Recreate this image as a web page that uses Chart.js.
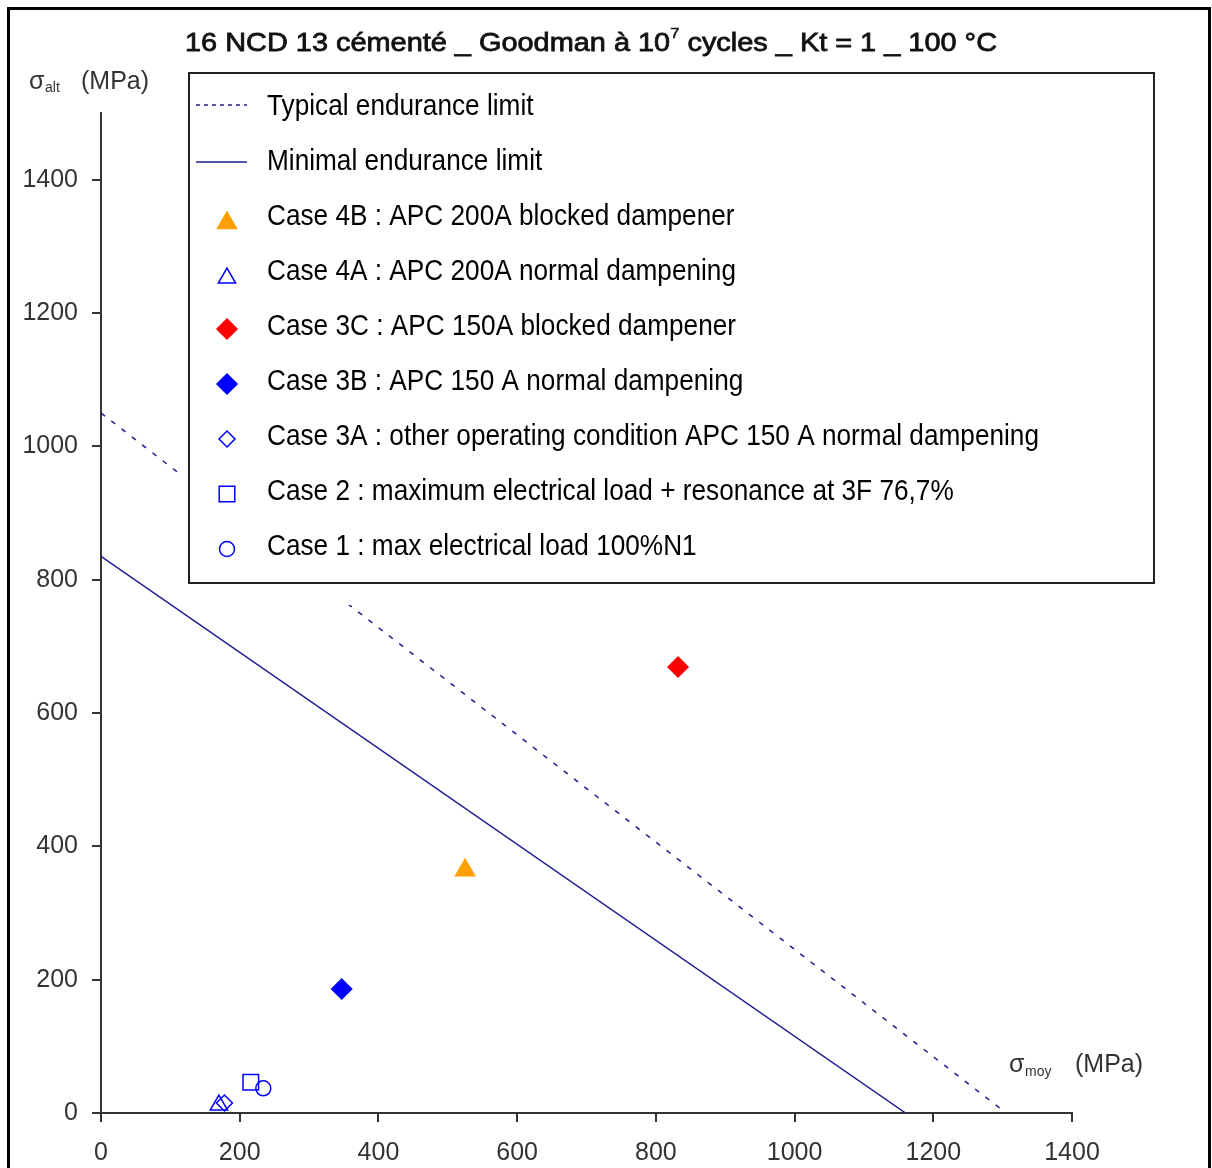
<!DOCTYPE html>
<html>
<head>
<meta charset="utf-8">
<script src="https://cdn.jsdelivr.net/npm/chart.js@4"></script>
<style>
  html, body { margin: 0; padding: 0; background: #fff; }
  #wrap { width: 1212px; height: 1168px; }
</style>
</head>
<body>
<div id="wrap"><canvas id="chart" width="1212" height="1168"></canvas></div>
<script>
// tick values
const xTicks = [0, 200, 400, 600, 800, 1000, 1200, 1400];
const yTicks = [0, 200, 400, 600, 800, 1000, 1200, 1400];

// Goodman lines (end points)
const typicalX = [0, 1305];
const typicalY = [1050, 0];
const minimalX = [0, 1160];
const minimalY = [835, 0];

// measured cases
const caseLabels = [
  "Case 4B : APC 200A blocked dampener",
  "Case 4A : APC 200A normal dampening",
  "Case 3C : APC 150A blocked dampener",
  "Case 3B : APC 150 A normal dampening",
  "Case 3A : other operating condition APC 150 A normal dampening",
  "Case 2 : maximum electrical load + resonance at 3F 76,7%",
  "Case 1 : max electrical load 100%N1"
];
const caseX = [525, 170, 832, 347, 178, 216, 234];
const caseY = [364, 12, 669, 186, 15, 46, 37];

const lineLabels = ["Typical endurance limit", "Minimal endurance limit"];
const titleParts = ["16 NCD 13 cémenté _ Goodman à 10", "7", " cycles _ Kt = 1 _ 100 °C"];

const NAVY = "#1c1c8f";
const BLUE = "#0000ff";

// marker look per case
const caseStyles = [
  { pointStyle: "triangle", radius: 11, fill: "#ff9f00", border: "#ff9f00" },
  { pointStyle: "triangle", radius: 10, fill: "rgba(0,0,0,0)", border: BLUE },
  { pointStyle: "rectRot", radius: 10, fill: "#ff0000", border: "#ff0000" },
  { pointStyle: "rectRot", radius: 10, fill: BLUE, border: BLUE },
  { pointStyle: "rectRot", radius: 8, fill: "rgba(0,0,0,0)", border: BLUE },
  { pointStyle: "rect", radius: 11, fill: "rgba(0,0,0,0)", border: BLUE },
  { pointStyle: "circle", radius: 7.5, fill: "rgba(0,0,0,0)", border: BLUE }
];

const toPoints = (xs, ys) => xs.map((x, i) => ({ x: x, y: ys[i] }));

const datasets = [
  {
    label: lineLabels[0],
    data: toPoints(typicalX, typicalY),
    showLine: true,
    borderColor: NAVY,
    borderWidth: 1.5,
    borderDash: [5, 8],
    pointRadius: 0,
    isLine: true
  },
  {
    label: lineLabels[1],
    data: toPoints(minimalX, minimalY),
    showLine: true,
    borderColor: NAVY,
    borderWidth: 1.5,
    pointRadius: 0,
    isLine: true
  }
];
caseLabels.forEach((label, i) => {
  const s = caseStyles[i];
  datasets.push({
    label: label,
    data: [{ x: caseX[i], y: caseY[i] }],
    pointStyle: s.pointStyle,
    pointRadius: s.radius,
    pointBackgroundColor: s.fill,
    pointBorderColor: s.border,
    pointBorderWidth: 1.5,
    clip: false
  });
});

// text squeezed horizontally to match the narrow face of the original
function drawFitted(ctx, text, x, y, font, sx, stroke) {
  ctx.save();
  ctx.font = font;
  ctx.translate(x, y);
  ctx.scale(sx, 1);
  ctx.fillText(text, 0, 0);
  if (stroke) {
    ctx.strokeStyle = ctx.fillStyle;
    ctx.lineWidth = stroke;
    ctx.strokeText(text, 0, 0);
  }
  ctx.restore();
}

// outer frame, title, axis titles, legend box
const decorations = {
  id: "decorations",
  afterDatasetsDraw(chart) {
    const ctx = chart.ctx;
    const ds = chart.data.datasets;

    // legend box (white, with a margin hiding the line behind it)
    const L = 189, T = 73, R = 1154, B = 583;
    ctx.save();
    ctx.fillStyle = "#fff";
    ctx.fillRect(L - 10, T - 12, R - L + 22, B - T + 34);
    ctx.strokeStyle = "#222";
    ctx.lineWidth = 2;
    ctx.strokeRect(L, T, R - L, B - T);

    const font = "30px 'Liberation Sans', Arial, sans-serif";
    ctx.font = font;
    const sx = 772 / ctx.measureText(caseLabels[4]).width;
    ctx.fillStyle = "#000";
    ctx.textBaseline = "alphabetic";
    ds.forEach((d, i) => {
      const base = 115 + 55 * i;
      if (d.isLine) {
        ctx.save();
        ctx.strokeStyle = d.borderColor;
        ctx.lineWidth = 1.5;
        ctx.setLineDash(d.borderDash ? [4, 4] : []);
        ctx.beginPath();
        ctx.moveTo(196, base - 10 + (i === 1 ? 2 : 0));
        ctx.lineTo(247, base - 10 + (i === 1 ? 2 : 0));
        ctx.stroke();
        ctx.restore();
      } else {
        ctx.save();
        ctx.fillStyle = d.pointBackgroundColor;
        ctx.strokeStyle = d.pointBorderColor;
        ctx.lineWidth = d.pointBorderWidth;
        const dy = d.pointStyle === "triangle" ? -2 : -6;
        Chart.helpers.drawPoint(ctx, {
          pointStyle: d.pointStyle,
          radius: d.pointRadius,
          rotation: 0,
          borderWidth: d.pointBorderWidth
        }, 227, base + dy);
        ctx.restore();
      }
      ctx.fillStyle = "#000";
      drawFitted(ctx, d.label, 267, base, font, sx);
    });
    ctx.restore();
  },
  afterDraw(chart) {
    const ctx = chart.ctx;
    ctx.save();
    // outer frame
    ctx.strokeStyle = "#000";
    ctx.lineWidth = 3;
    ctx.strokeRect(8.5, 8.5, 1201, 1200);

    // title with superscript exponent
    ctx.fillStyle = "#111";
    ctx.textBaseline = "alphabetic";
    const tf = "26px 'Liberation Sans', Arial, sans-serif";
    const sf = "15px 'Liberation Sans', Arial, sans-serif";
    ctx.font = tf;
    const w0 = ctx.measureText(titleParts[0]).width;
    const w2 = ctx.measureText(titleParts[2]).width;
    ctx.font = sf;
    const w1 = ctx.measureText(titleParts[1]).width;
    const tsx = 812 / (w0 + w1 + w2);
    let x = 185;
    drawFitted(ctx, titleParts[0], x, 51, tf, tsx, 0.8);
    x += w0 * tsx;
    drawFitted(ctx, titleParts[1], x, 38, sf, tsx, 0.5);
    x += w1 * tsx;
    drawFitted(ctx, titleParts[2], x, 51, tf, tsx, 0.8);

    // axis titles
    ctx.fillStyle = "#333";
    const af = "25px 'Liberation Sans', Arial, sans-serif";
    const bf = "14px 'Liberation Sans', Arial, sans-serif";
    ctx.font = af;
    ctx.fillText("σ", 29, 89);
    ctx.font = bf;
    ctx.fillText("alt", 45, 92);
    ctx.font = af;
    ctx.fillText("(MPa)", 81, 89);

    ctx.fillText("σ", 1009, 1072);
    ctx.font = bf;
    ctx.fillText("moy", 1025, 1076);
    ctx.font = af;
    ctx.fillText("(MPa)", 1075, 1072);
    ctx.restore();
  }
};

const tickFont = { family: "'Liberation Sans', Arial, sans-serif", size: 25 };

new Chart(document.getElementById("chart"), {
  type: "scatter",
  data: { datasets: datasets },
  options: {
    responsive: false,
    animation: false,
    layout: { padding: { left: 0, right: 140, top: 113, bottom: 0 } },
    plugins: {
      legend: { display: false },
      title: { display: false },
      tooltip: { enabled: false }
    },
    scales: {
      x: {
        type: "linear",
        min: 0,
        max: 1400,
        afterFit: (s) => { s.height = 55; },
        afterBuildTicks: (s) => { s.ticks = xTicks.map((v) => ({ value: v })); },
        grid: { display: true, drawOnChartArea: false, drawTicks: true, tickLength: 9, color: "#333", lineWidth: 2 },
        border: { display: true, color: "#333", width: 2 },
        ticks: { color: "#333", font: tickFont, padding: 16, maxRotation: 0, callback: (v) => String(v) }
      },
      y: {
        type: "linear",
        min: 0,
        max: 1500,
        afterFit: (s) => { s.width = 101; },
        afterBuildTicks: (s) => { s.ticks = yTicks.map((v) => ({ value: v })); },
        grid: { display: true, drawOnChartArea: false, drawTicks: true, tickLength: 9, color: "#333", lineWidth: 2 },
        border: { display: true, color: "#333", width: 2 },
        ticks: { color: "#333", font: tickFont, padding: 14, callback: (v) => String(v) }
      }
    }
  },
  plugins: [decorations]
});
</script>
</body>
</html>
